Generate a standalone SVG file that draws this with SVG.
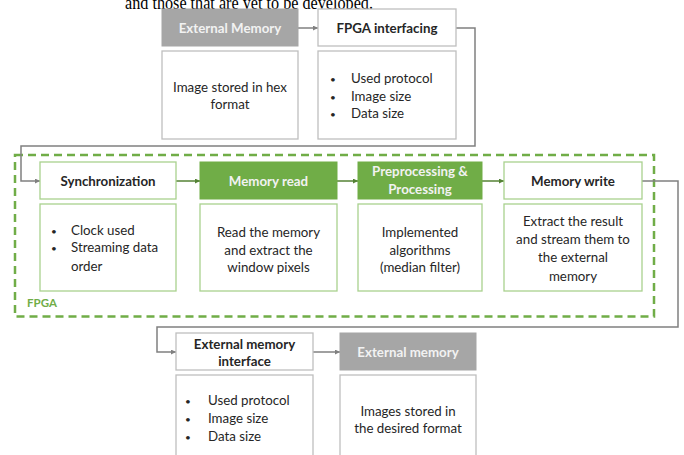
<svg xmlns="http://www.w3.org/2000/svg" width="684" height="455" viewBox="0 0 684 455">
<defs>
<marker id="ag" viewBox="0 0 6 6" refX="6" refY="3" markerWidth="5" markerHeight="5" orient="auto" markerUnits="userSpaceOnUse"><path d="M0,0 L6,3 L0,6 z" fill="#808080"/></marker>
<marker id="an" viewBox="0 0 6 6" refX="6" refY="3" markerWidth="5" markerHeight="5" orient="auto" markerUnits="userSpaceOnUse"><path d="M0,0 L6,3 L0,6 z" fill="#548235"/></marker>
</defs>
<style>
.t{font-family:Lato,"Liberation Sans",sans-serif;font-size:13.3px;fill:#262626;text-anchor:middle}
.l{text-anchor:start}
.b{font-weight:bold}
.w{fill:#f2f2f2}
.bu{font-size:10px}
.gh{fill:#a6a6a6;stroke:#a6a6a6;stroke-width:1}
.wb{fill:#fff;stroke:#bfbfbf;stroke-width:1.3}
.gb{fill:#fff;stroke:#a9d18e;stroke-width:1.3}
.gf{fill:#70ad47;stroke:#70ad47;stroke-width:1}
.cg{fill:none;stroke:#808080;stroke-width:1.5}
.cn{fill:none;stroke:#548235;stroke-width:1.5}
</style>
<rect width="684" height="455" fill="#fff"/>
<text x="125" y="9" font-family="'Liberation Serif',serif" font-size="19" fill="#000" textLength="248" lengthAdjust="spacingAndGlyphs">and those that are yet to be developed.</text>

<g id="fpga">
<rect x="15" y="155" width="639" height="161.5" fill="none" stroke="#70ad47" stroke-width="2.5" stroke-dasharray="8,5"/>
<text x="27" y="307" class="t l b" style="fill:#70ad47;font-size:11.5px">FPGA</text>
</g>

<g id="connectors">
<path class="cg" d="M298,28 H318" marker-end="url(#ag)"/>
<path class="cg" d="M456,28 H475 V146 H21 V181 H40" marker-end="url(#ag)"/>
<path class="cn" d="M176,181 H200" marker-end="url(#an)"/>
<path class="cn" d="M337,181 H358" marker-end="url(#an)"/>
<path class="cn" d="M482,181 H504" marker-end="url(#an)"/>
<path class="cg" d="M642,181 H678 V327 H157 V352 H176" marker-end="url(#ag)"/>
<path class="cg" d="M313,352 H340" marker-end="url(#ag)"/>
</g>

<g id="external-memory-in">
<rect class="gh" x="162" y="9" width="136" height="37"/>
<text class="t b w" x="230" y="32.5">External Memory</text>
<rect class="wb" x="162" y="51" width="136" height="88"/>
<text class="t" x="230" y="92">Image stored in hex</text>
<text class="t" x="230" y="109">format</text>
</g>

<g id="fpga-interfacing">
<rect class="wb" x="318" y="9" width="138" height="37"/>
<text class="t b" x="387" y="32.5">FPGA interfacing</text>
<rect class="wb" x="318" y="51" width="138" height="88"/>
<text class="t l bu" x="330" y="83">•</text><text class="t l" x="351" y="83">Used protocol</text>
<text class="t l bu" x="330" y="101">•</text><text class="t l" x="351" y="101">Image size</text>
<text class="t l bu" x="330" y="118">•</text><text class="t l" x="351" y="118">Data size</text>
</g>

<g id="synchronization">
<rect class="gb" x="40" y="162" width="136" height="37"/>
<text class="t b" x="108" y="185.5">Synchronization</text>
<rect class="gb" x="40" y="204" width="136" height="87"/>
<text class="t l bu" x="51" y="235">•</text><text class="t l" x="71" y="235">Clock used</text>
<text class="t l bu" x="51" y="252">•</text><text class="t l" x="71" y="252">Streaming data</text>
<text class="t l" x="71" y="271">order</text>
</g>

<g id="memory-read">
<rect class="gf" x="200" y="162" width="137" height="37"/>
<text class="t b w" x="268.5" y="185.5">Memory read</text>
<rect class="gb" x="200" y="204" width="137" height="87"/>
<text class="t" x="268.5" y="237">Read the memory</text>
<text class="t" x="268.5" y="255">and extract the</text>
<text class="t" x="268.5" y="272">window pixels</text>
</g>

<g id="preprocessing">
<rect class="gf" x="358" y="162" width="124" height="37"/>
<text class="t b w" x="420" y="176">Preprocessing &amp;</text>
<text class="t b w" x="420" y="194">Processing</text>
<rect class="gb" x="358" y="204" width="124" height="87"/>
<text class="t" x="420" y="237">Implemented</text>
<text class="t" x="420" y="255">algorithms</text>
<text class="t" x="420" y="272">(median filter)</text>
</g>

<g id="memory-write">
<rect class="gb" x="504" y="162" width="138" height="37"/>
<text class="t b" x="573" y="185.5">Memory write</text>
<rect class="gb" x="504" y="204" width="138" height="87"/>
<text class="t" x="573" y="226">Extract the result</text>
<text class="t" x="573" y="244">and stream them to</text>
<text class="t" x="573" y="262">the external</text>
<text class="t" x="573" y="281">memory</text>
</g>

<g id="external-memory-interface">
<rect class="wb" x="176" y="333" width="137" height="37"/>
<text class="t b" x="244.5" y="349">External memory</text>
<text class="t b" x="244.5" y="366">interface</text>
<rect class="wb" x="176" y="375" width="137" height="90"/>
<text class="t l bu" x="185" y="405">•</text><text class="t l" x="208" y="405">Used protocol</text>
<text class="t l bu" x="185" y="423">•</text><text class="t l" x="208" y="423">Image size</text>
<text class="t l bu" x="185" y="441">•</text><text class="t l" x="208" y="441">Data size</text>
</g>

<g id="external-memory-out">
<rect class="gh" x="340" y="333" width="136" height="37"/>
<text class="t b w" x="408" y="357">External memory</text>
<rect class="wb" x="340" y="375" width="136" height="90"/>
<text class="t" x="408" y="416">Images stored in</text>
<text class="t" x="408" y="433">the desired format</text>
</g>
</svg>
